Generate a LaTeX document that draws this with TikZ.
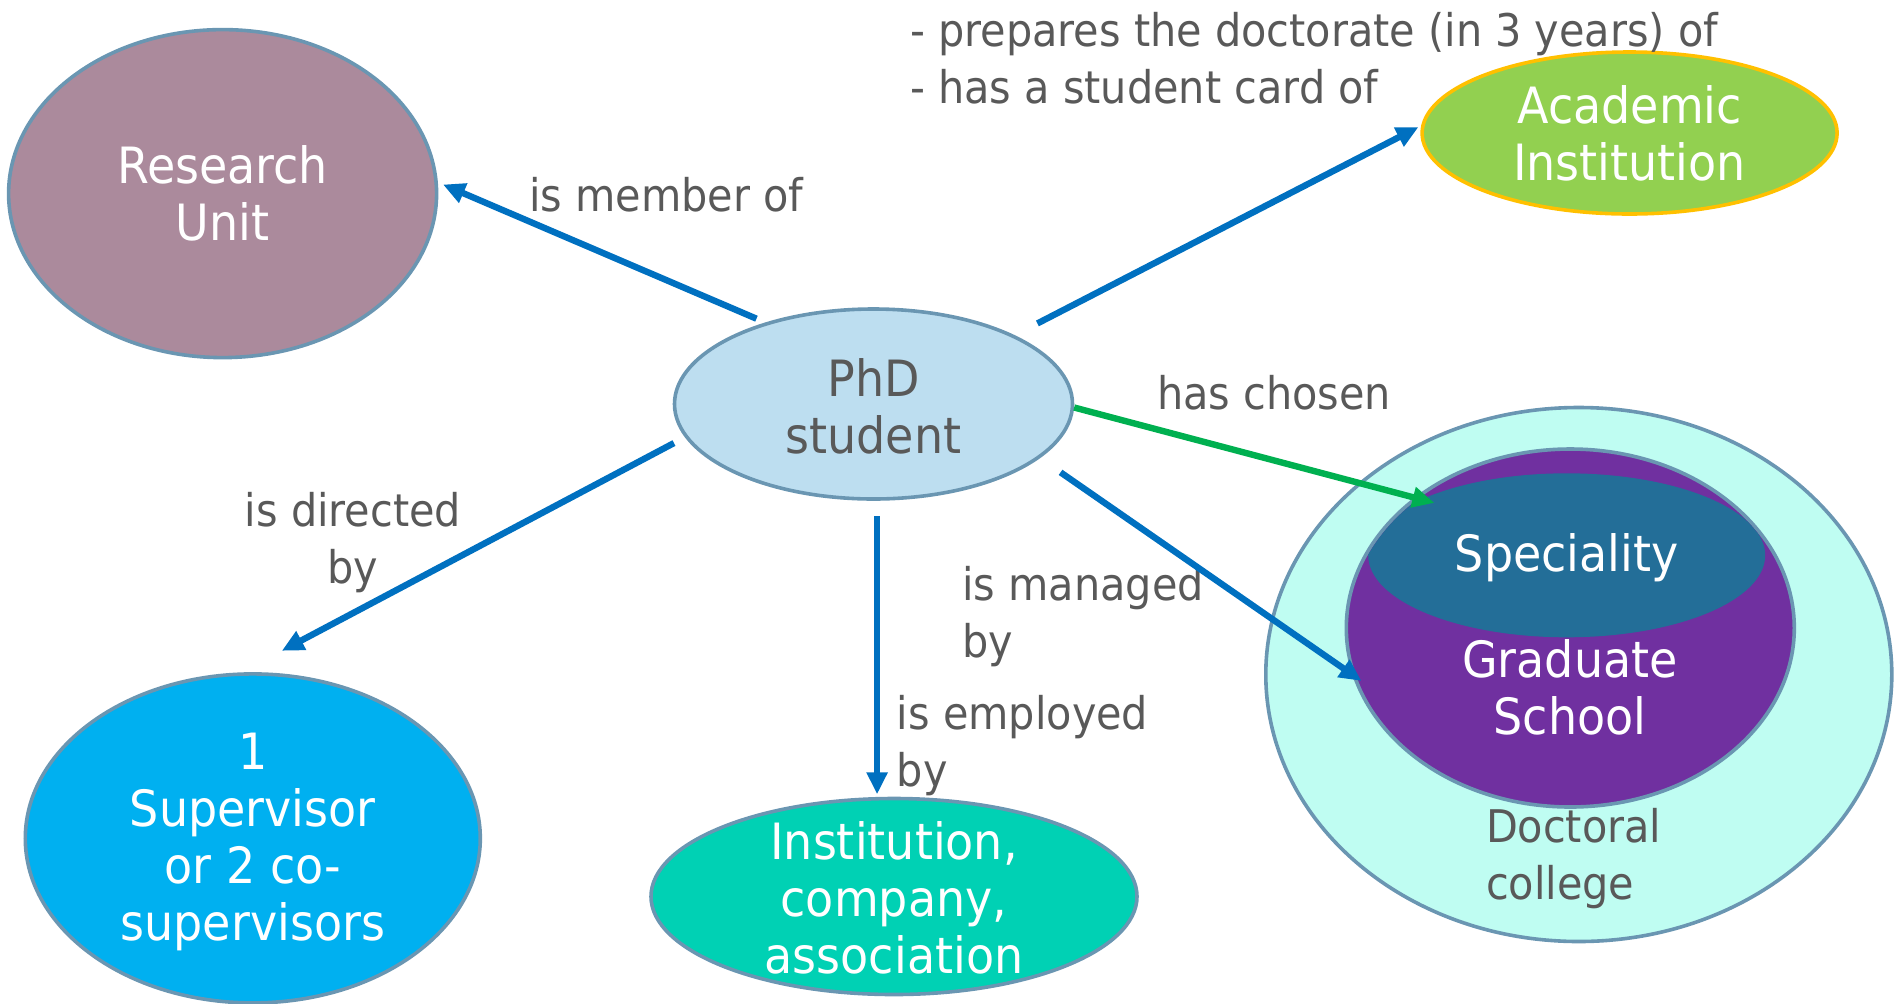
\documentclass[tikz,border=0pt]{standalone}
\usepackage{fontspec}
\setmainfont{DejaVu Sans}[FakeStretch=0.92]
\usetikzlibrary{arrows.meta,shapes.geometric}

\definecolor{txtgray}{HTML}{595959}
\definecolor{rim}{HTML}{6A96B2}
\definecolor{linkblue}{HTML}{0070C0}
\definecolor{linkgreen}{HTML}{00B050}
\definecolor{unitfill}{HTML}{AB8A9C}
\definecolor{phdfill}{HTML}{BDDEF0}
\definecolor{acadfill}{HTML}{92D050}
\definecolor{acadrim}{HTML}{FFC000}
\definecolor{supfill}{HTML}{00B0F0}
\definecolor{instfill}{HTML}{00D1B4}
\definecolor{collfill}{HTML}{BFFDF2}
\definecolor{gradfill}{HTML}{7030A0}
\definecolor{specfill}{HTML}{236E98}

\begin{document}
\begin{tikzpicture}[x=0.5pt,y=-0.5pt,>={Triangle[length=11pt,width=10pt]}]
	\tikzstyle{blob}=[ellipse,draw=rim,line width=1.8pt,inner sep=0pt]
	\tikzstyle{inner}=[text=white,font=\fontsize{25}{28.5}\selectfont,align=center]
	\tikzstyle{tag}=[text=txtgray,font=\fontsize{22.5}{28.5}\selectfont,inner sep=0pt]
	\tikzstyle{link}=[->,draw=linkblue,line width=3.2pt]

	\useasboundingbox (0,0) rectangle (1897,1003);

	% the concepts
	\node[blob,fill=unitfill,minimum width=214pt,minimum height=164pt] (ru) at (222.6,193.6) {};
	\node[blob,fill=phdfill,minimum width=199pt,minimum height=95pt] (phd) at (873.5,404) {};
	\node[blob,fill=acadfill,draw=acadrim,minimum width=207.5pt,minimum height=81pt] (acad) at (1629.6,133) {};
	\node[blob,fill=supfill,minimum width=227.5pt,minimum height=164.5pt] (sup) at (252.8,838.4) {};
	\node[blob,fill=instfill,minimum width=243pt,minimum height=98pt] (inst) at (894,896.5) {};
	\node[blob,fill=collfill,minimum width=313pt,minimum height=267pt] (coll) at (1578.8,674.5) {};
	\node[blob,fill=gradfill,minimum width=224pt,minimum height=179pt] (grad) at (1570.3,628) {};
	\begin{scope}
		\clip (grad.center) ellipse [x radius=111pt, y radius=88.5pt];
		\node[ellipse,fill=specfill,minimum width=198.5pt,minimum height=82pt] (spec) at (1566.7,555.3) {};
	\end{scope}

	\node[inner] (ru-t) at (222.6,193.6) {Research\\Unit};
	\node[inner,text=txtgray] (phd-t) at (873.5,406) {PhD\\student};
	\node[inner] (acad-t) at (1629.6,133.7) {Academic\\Institution};
	\node[inner] (sup-t) at (252.8,842) {1\\Supervisor\\or 2 co-\\supervisors};
	\node[inner] (inst-t) at (894,897.7) {Institution,\\company,\\association};
	\node[inner] (spec-t) at (1566.7,557.7) {Speciality};
	\node[inner] (grad-t) at (1570,687) {Graduate\\School};
	\node[tag,anchor=west,align=left] (coll-t) at (1485.6,859) {Doctoral\\college};

	% the relations
	\node[tag,anchor=west] (member) at (528.7,194.8) {is member of};
	\node[tag,anchor=west,align=left] (prep) at (909.8,58) {- prepares the doctorate (in 3 years) of\\- has a student card of};
	\node[tag,anchor=west] (chosen) at (1156.6,393.2) {has chosen};
	\node[tag,align=center] (directed) at (353,543) {is directed\\by};
	\node[tag,anchor=west,align=left] (managed) at (961.8,616.4) {is managed\\by};
	\node[tag,anchor=west,align=left] (employed) at (896.5,745.2) {is employed\\by};

	\coordinate (drop) at ([xshift=1.8pt]phd.south);

	\path (phd.143.2) edge[link,shorten <=4.8pt,shorten >=2.8pt] (ru.3.5);
	\path (phd.26.4) edge[link,shorten <=12.8pt,shorten >=1.5pt] (acad.178);
	\path (phd.190.8) edge[link,shorten <=6.2pt,shorten >=23pt] (sup.94.1);
	\path (drop) edge[link,shorten <=7.6pt,shorten >=1.2pt] (drop |- inst.north);
	\path (phd.-18) edge[link,shorten <=12.5pt,shorten >=-5.7pt] (grad.192.2);
	\path (phd.-1.4) edge[link,draw=linkgreen,shorten >=-7pt] (spec.159.9);
\end{tikzpicture}
\end{document}
